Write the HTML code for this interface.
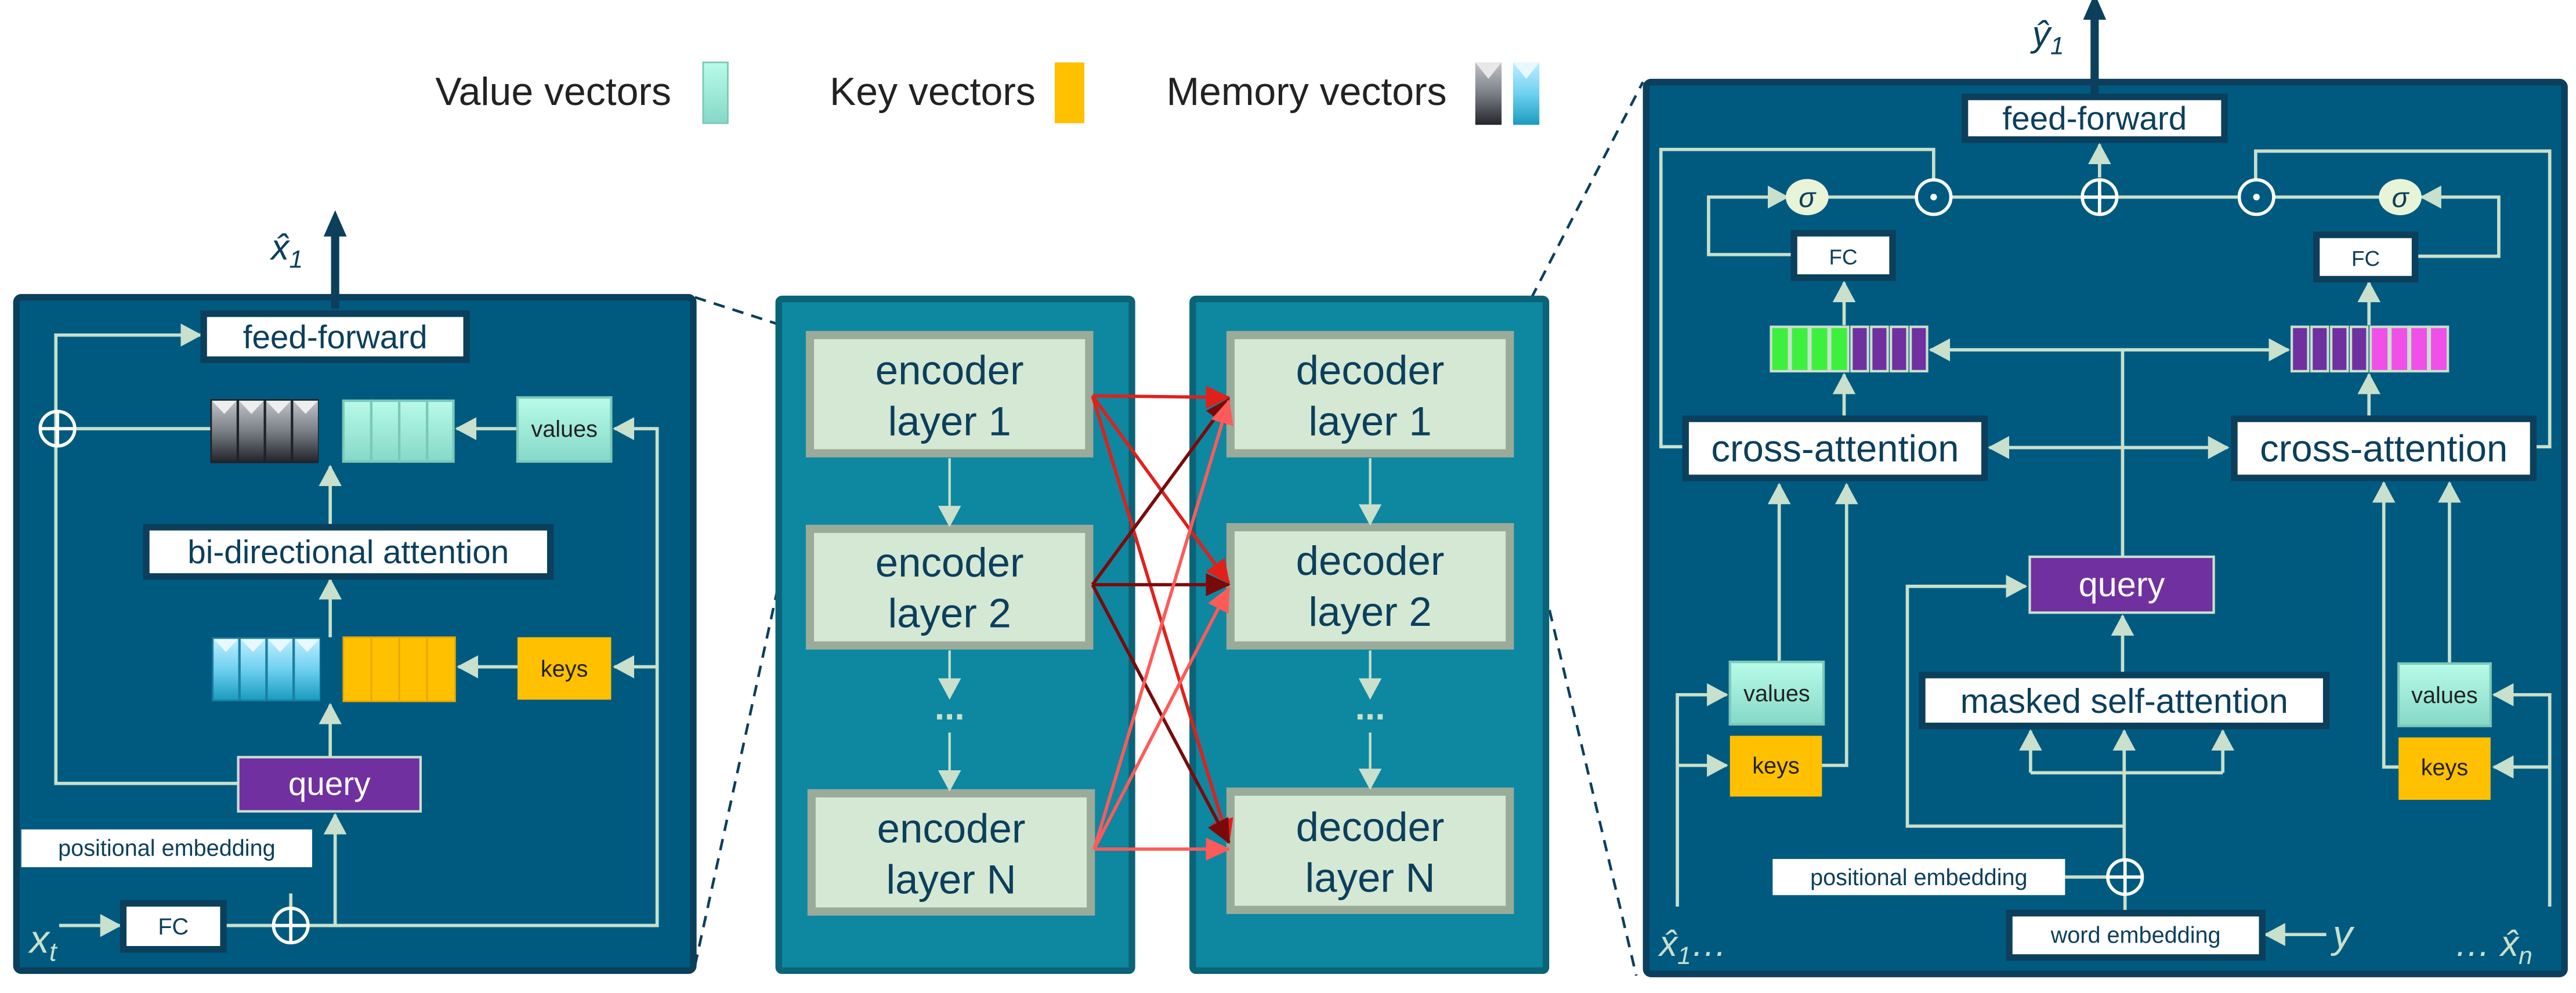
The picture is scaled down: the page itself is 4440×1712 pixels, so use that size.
<!DOCTYPE html>
<html><head><meta charset="utf-8"><style>
html,body{margin:0;padding:0;background:#fff;}
svg{display:block;}
text{font-family:"Liberation Sans",sans-serif;}
</style></head><body>
<svg width="4440" height="1712" viewBox="0 0 1568 604.6" xmlns="http://www.w3.org/2000/svg">
<defs>
<marker id="ah" markerUnits="userSpaceOnUse" markerWidth="14" markerHeight="14" refX="12" refY="7" orient="auto"><path d="M0,0 L13,7 L0,14 Z" fill="#c8e0cc"/></marker>
<marker id="r1" markerUnits="userSpaceOnUse" markerWidth="16" markerHeight="16" refX="14" refY="8" orient="auto"><path d="M0,1 L15,8 L0,15 Z" fill="#e0201a"/></marker>
<marker id="r2" markerUnits="userSpaceOnUse" markerWidth="16" markerHeight="16" refX="14" refY="8" orient="auto"><path d="M0,1 L15,8 L0,15 Z" fill="#7a0a0a"/></marker>
<marker id="r3" markerUnits="userSpaceOnUse" markerWidth="16" markerHeight="16" refX="14" refY="8" orient="auto"><path d="M0,1 L15,8 L0,15 Z" fill="#ff5a5a"/></marker>
<marker id="big" markerUnits="userSpaceOnUse" markerWidth="16" markerHeight="16" refX="8" refY="14" orient="0"><path d="M1,16 L8,0 L15,16 Z" fill="#0b3f5c"/></marker>
<linearGradient id="gray" x1="0" y1="0" x2="0" y2="1"><stop offset="0" stop-color="#c0c4c8"/><stop offset="0.5" stop-color="#7a7f86"/><stop offset="1" stop-color="#23262b"/></linearGradient>
<linearGradient id="blue" x1="0" y1="0" x2="0" y2="1"><stop offset="0" stop-color="#bfeeff"/><stop offset="0.5" stop-color="#6fd0f0"/><stop offset="1" stop-color="#1a9cc0"/></linearGradient>
<linearGradient id="teal" x1="0" y1="0" x2="0" y2="1"><stop offset="0" stop-color="#b8fbe8"/><stop offset="1" stop-color="#86d8c8"/></linearGradient>
</defs>

<!-- legend -->
<text x="265" y="64" font-size="24" fill="#222">Value vectors</text>
<rect x="428" y="38" width="15" height="37" fill="url(#teal)" stroke="#7cc8b8"/>
<text x="505" y="64" font-size="24" fill="#222">Key vectors</text>
<rect x="642" y="38" width="18" height="37" fill="#ffc000"/>
<text x="710" y="64" font-size="24" fill="#222">Memory vectors</text>
<rect x="898" y="38" width="16" height="38" fill="url(#gray)"/><path d="M898,38 L906,48 L914,38 Z" fill="#e8e8e8"/>
<rect x="921" y="38" width="16" height="38" fill="url(#blue)"/><path d="M921,38 L929,48 L937,38 Z" fill="#e8f8ff"/>

<!-- dashed zoom lines -->
<g stroke="#0b3f5c" stroke-width="1.6" stroke-dasharray="7,5" fill="none">
<line x1="423" y1="181" x2="491" y2="203"/>
<line x1="423" y1="588" x2="491" y2="278"/>
<line x1="921" y1="203" x2="1000" y2="50"/>
<line x1="921" y1="278" x2="996" y2="594"/>
</g>

<!-- LEFT PANEL -->
<rect x="10" y="181" width="412" height="410" rx="3" fill="#005a80" stroke="#0b3f5c" stroke-width="4"/>
<g stroke="#c8e0cc" stroke-width="2" fill="none">
<polyline points="145,477 34,477 34,204 122,204" marker-end="url(#ah)"/>
<line x1="46" y1="261" x2="128" y2="261"/>
<line x1="201" y1="321" x2="201" y2="284" marker-end="url(#ah)"/>
<line x1="201" y1="388" x2="201" y2="353" marker-end="url(#ah)"/>
<line x1="201" y1="461" x2="201" y2="429" marker-end="url(#ah)"/>
<line x1="315" y1="261" x2="278" y2="261" marker-end="url(#ah)"/>
<line x1="315" y1="406" x2="279" y2="406" marker-end="url(#ah)"/>
<polyline points="188,563.5 400,563.5 400,261 374,261" marker-end="url(#ah)"/>
<line x1="400" y1="406" x2="374" y2="406" marker-end="url(#ah)"/>
<line x1="136" y1="563.5" x2="166" y2="563.5"/>
<line x1="204" y1="563.5" x2="204" y2="496" marker-end="url(#ah)"/>
<line x1="36" y1="563.5" x2="73" y2="563.5" marker-end="url(#ah)"/>
<line x1="177" y1="544" x2="177" y2="552"/>
</g>
<g stroke="#fff" stroke-width="2" fill="none">
<circle cx="35" cy="261" r="10.5"/><line x1="24.5" y1="261" x2="45.5" y2="261"/><line x1="35" y1="250.5" x2="35" y2="271.5"/>
<circle cx="177" cy="563.5" r="10.5"/><line x1="166.5" y1="563.5" x2="187.5" y2="563.5"/><line x1="177" y1="553" x2="177" y2="574"/>
</g>
<line x1="204" y1="188" x2="204" y2="142" stroke="#0b3f5c" stroke-width="5" marker-end="url(#big)"/>
<text x="165" y="158" font-size="22" font-style="italic" font-family="Liberation Serif" fill="#0b3f5c">x̂<tspan font-size="15" dy="5">1</tspan></text>
<rect x="124" y="191" width="160" height="28" fill="#fff" stroke="#0b3f5c" stroke-width="4"/>
<text x="204" y="212" font-size="20" text-anchor="middle" fill="#0b3f5c">feed-forward</text>
<g><rect x="128" y="243" width="66" height="39" fill="#1e2328"/>
<rect x="129" y="244" width="15" height="37" fill="url(#gray)"/><rect x="145.5" y="244" width="15" height="37" fill="url(#gray)"/><rect x="162" y="244" width="15" height="37" fill="url(#gray)"/><rect x="178.5" y="244" width="15" height="37" fill="url(#gray)"/>
<path d="M129,244 L136.5,252 L144,244Z M145.5,244 L153,252 L160.5,244Z M162,244 L169.5,252 L177,244Z M178.5,244 L186,252 L193.5,244Z" fill="#eee"/></g>
<g fill="url(#teal)" stroke="#7cc8b8" stroke-width="1.5"><rect x="209" y="244" width="17" height="37"/><rect x="226" y="244" width="17" height="37"/><rect x="243" y="244" width="17" height="37"/><rect x="260" y="244" width="16" height="37"/></g>
<rect x="315" y="242" width="57" height="39" fill="url(#teal)" stroke="#7cc8b8" stroke-width="1.5"/>
<text x="343.5" y="266" font-size="14" text-anchor="middle" fill="#222">values</text>
<rect x="89" y="321" width="246" height="30" fill="#fff" stroke="#0b3f5c" stroke-width="4"/>
<text x="212" y="343" font-size="20" text-anchor="middle" fill="#0b3f5c">bi-directional attention</text>
<g><rect x="129" y="388" width="66" height="39" fill="#1a7ea0"/>
<rect x="130" y="389" width="15" height="37" fill="url(#blue)"/><rect x="146.5" y="389" width="15" height="37" fill="url(#blue)"/><rect x="163" y="389" width="15" height="37" fill="url(#blue)"/><rect x="179.5" y="389" width="15" height="37" fill="url(#blue)"/>
<path d="M130,389 L137.5,397 L145,389Z M146.5,389 L154,397 L161.5,389Z M163,389 L170.5,397 L178,389Z M179.5,389 L187,397 L194.5,389Z" fill="#e8f8ff"/></g>
<g fill="#ffc000" stroke="#e6a800" stroke-width="1"><rect x="209" y="388" width="17" height="39"/><rect x="226" y="388" width="17" height="39"/><rect x="243" y="388" width="17" height="39"/><rect x="260" y="388" width="17" height="39"/></g>
<rect x="315" y="388" width="57" height="38" fill="#ffc000"/>
<text x="343.5" y="412" font-size="14" text-anchor="middle" fill="#222">keys</text>
<rect x="145" y="461" width="111" height="33" fill="#7030a0" stroke="#c8e0cc" stroke-width="1.5"/>
<text x="200.5" y="484" font-size="20" text-anchor="middle" fill="#fff">query</text>
<rect x="13" y="505" width="177" height="23" fill="#fff"/>
<text x="101.5" y="521" font-size="14" text-anchor="middle" fill="#0b3f5c">positional embedding</text>
<rect x="75" y="550" width="61" height="28" fill="#fff" stroke="#0b3f5c" stroke-width="4"/>
<text x="105.5" y="569" font-size="14" text-anchor="middle" fill="#0b3f5c">FC</text>
<text x="18" y="580" font-size="24" font-style="italic" font-family="Liberation Serif" fill="#c8e0cc">x<tspan font-size="16" dy="5">t</tspan></text>

<!-- MIDDLE PANELS -->
<rect x="474" y="182" width="215" height="409" rx="2" fill="#0e87a0" stroke="#0b6378" stroke-width="4"/>
<rect x="726" y="182" width="215" height="409" rx="2" fill="#0e87a0" stroke="#0b6378" stroke-width="4"/>
<g fill="#d4e8d4" stroke="#9aab9a" stroke-width="5">
<rect x="493" y="204" width="170" height="72"/><rect x="493" y="322" width="170" height="71"/><rect x="494" y="483" width="170" height="72"/>
<rect x="749" y="204" width="170" height="72"/><rect x="749" y="321" width="170" height="72"/><rect x="749" y="482" width="170" height="72"/>
</g>
<g font-size="25" text-anchor="middle" fill="#0b3f5c">
<text x="578" y="234">encoder</text><text x="578" y="265">layer 1</text>
<text x="578" y="351">encoder</text><text x="578" y="382">layer 2</text>
<text x="579" y="513">encoder</text><text x="579" y="544">layer N</text>
<text x="834" y="234">decoder</text><text x="834" y="265">layer 1</text>
<text x="834" y="350">decoder</text><text x="834" y="381">layer 2</text>
<text x="834" y="512">decoder</text><text x="834" y="543">layer N</text>
</g>
<g stroke="#c8e0cc" stroke-width="1.5">
<line x1="578" y1="279" x2="578" y2="320" marker-end="url(#ah)"/>
<line x1="578" y1="396" x2="578" y2="425" marker-end="url(#ah)"/>
<line x1="578" y1="446" x2="578" y2="481" marker-end="url(#ah)"/>
<line x1="834" y1="279" x2="834" y2="319" marker-end="url(#ah)"/>
<line x1="834" y1="396" x2="834" y2="425" marker-end="url(#ah)"/>
<line x1="834" y1="446" x2="834" y2="480" marker-end="url(#ah)"/>
</g>
<text x="578" y="438" font-size="22" font-weight="bold" text-anchor="middle" fill="#c8e0cc">...</text>
<text x="834" y="438" font-size="22" font-weight="bold" text-anchor="middle" fill="#c8e0cc">...</text>
<g stroke-width="2" fill="none">
<line x1="665" y1="241" x2="748" y2="242" stroke="#e0201a" marker-end="url(#r1)"/>
<line x1="665" y1="241" x2="748" y2="355" stroke="#e0201a" marker-end="url(#r1)"/>
<line x1="665" y1="241" x2="748" y2="513" stroke="#e0201a" marker-end="url(#r1)"/>
<line x1="665" y1="356" x2="748" y2="243" stroke="#7a0a0a" marker-end="url(#r2)"/>
<line x1="665" y1="356" x2="748" y2="356" stroke="#7a0a0a" marker-end="url(#r2)"/>
<line x1="665" y1="356" x2="748" y2="513" stroke="#7a0a0a" marker-end="url(#r2)"/>
<line x1="666" y1="517" x2="748" y2="244" stroke="#ff5a5a" marker-end="url(#r3)"/>
<line x1="666" y1="517" x2="748" y2="358" stroke="#ff5a5a" marker-end="url(#r3)"/>
<line x1="666" y1="517" x2="748" y2="517" stroke="#ff5a5a" marker-end="url(#r3)"/>
</g>

<!-- RIGHT PANEL -->
<rect x="1002" y="50" width="559" height="543" rx="3" fill="#005a80" stroke="#0b3f5c" stroke-width="4"/>
<line x1="1275" y1="58" x2="1275" y2="10" stroke="#0b3f5c" stroke-width="5" marker-end="url(#big)"/>
<text x="1237" y="28" font-size="22" font-style="italic" font-family="Liberation Serif" fill="#0b3f5c">ŷ<tspan font-size="15" dy="5">1</tspan></text>
<g stroke="#c8e0cc" stroke-width="2" fill="none">
<line x1="1111" y1="120" x2="1166" y2="120"/><line x1="1188" y1="120" x2="1362" y2="120"/><line x1="1384" y1="120" x2="1450" y2="120"/>
<line x1="1278" y1="108" x2="1278" y2="88" marker-end="url(#ah)"/>
<polyline points="1024,272 1011,272 1011,91 1177,91 1177,109"/>
<polyline points="1543,272 1552,272 1552,92 1373,92 1373,109"/>
<polyline points="1092,155 1040,155 1040,120 1088,120" marker-end="url(#ah)"/>
<polyline points="1471,156 1521,156 1521,120 1474,120" marker-end="url(#ah)"/>
<line x1="1122.5" y1="198" x2="1122.5" y2="172" marker-end="url(#ah)"/>
<line x1="1442" y1="198" x2="1442" y2="172" marker-end="url(#ah)"/>
<line x1="1122.5" y1="253" x2="1122.5" y2="228" marker-end="url(#ah)"/>
<line x1="1442" y1="253" x2="1442" y2="228" marker-end="url(#ah)"/>
<line x1="1292" y1="213" x2="1175" y2="213" marker-end="url(#ah)"/>
<line x1="1292" y1="213" x2="1393" y2="213" marker-end="url(#ah)"/>
<line x1="1292" y1="213" x2="1292" y2="339"/>
<line x1="1292" y1="272.5" x2="1211" y2="272.5" marker-end="url(#ah)"/>
<line x1="1292" y1="272.5" x2="1356" y2="272.5" marker-end="url(#ah)"/>
<line x1="1292" y1="410" x2="1292" y2="375" marker-end="url(#ah)"/>
<polyline points="1236,470.5 1353,470.5"/>
<line x1="1236" y1="470.5" x2="1236" y2="445" marker-end="url(#ah)"/>
<line x1="1293" y1="523" x2="1293" y2="445" marker-end="url(#ah)"/>
<line x1="1353" y1="470.5" x2="1353" y2="445" marker-end="url(#ah)"/>
<polyline points="1293,503 1161,503 1161,357 1233,357" marker-end="url(#ah)"/>
<line x1="1257" y1="534" x2="1283" y2="534"/>
<line x1="1293.5" y1="545" x2="1293.5" y2="556"/>
<line x1="1416" y1="569" x2="1379" y2="569" marker-end="url(#ah)"/>
<line x1="1083" y1="403" x2="1083" y2="295" marker-end="url(#ah)"/>
<polyline points="1109,466 1124,466 1124,295" marker-end="url(#ah)"/>
<polyline points="1021,552 1021,423 1051,423" marker-end="url(#ah)"/>
<line x1="1021" y1="466" x2="1051" y2="466" marker-end="url(#ah)"/>
<line x1="1491" y1="404" x2="1491" y2="294" marker-end="url(#ah)"/>
<polyline points="1460,467 1451,467 1451,294" marker-end="url(#ah)"/>
<polyline points="1552,552 1552,423 1518,423" marker-end="url(#ah)"/>
<line x1="1552" y1="467" x2="1518" y2="467" marker-end="url(#ah)"/>
</g>
<g stroke="#fff" stroke-width="2" fill="none">
<circle cx="1177" cy="120" r="10.5"/><circle cx="1373.5" cy="120" r="10.5"/>
<circle cx="1278" cy="120" r="10.5"/><line x1="1267.5" y1="120" x2="1288.5" y2="120"/><line x1="1278" y1="109.5" x2="1278" y2="130.5"/>
<circle cx="1293.5" cy="534" r="10.5"/><line x1="1283" y1="534" x2="1304" y2="534"/><line x1="1293.5" y1="523.5" x2="1293.5" y2="544.5"/>
</g>
<circle cx="1177" cy="120" r="2" fill="#fff"/><circle cx="1373.5" cy="120" r="2" fill="#fff"/>
<ellipse cx="1100" cy="120" rx="13" ry="11" fill="#e8f4d8"/><ellipse cx="1461" cy="120" rx="13" ry="11" fill="#e8f4d8"/>
<text x="1100" y="126" font-size="17" font-style="italic" font-family="Liberation Serif" text-anchor="middle" fill="#0b3f5c">σ</text>
<text x="1461" y="126" font-size="17" font-style="italic" font-family="Liberation Serif" text-anchor="middle" fill="#0b3f5c">σ</text>
<rect x="1196" y="59" width="158" height="26" fill="#fff" stroke="#0b3f5c" stroke-width="4"/>
<text x="1275" y="79" font-size="20" text-anchor="middle" fill="#0b3f5c">feed-forward</text>
<rect x="1092" y="142" width="60" height="27" fill="#fff" stroke="#0b3f5c" stroke-width="4"/>
<text x="1122" y="161" font-size="13" text-anchor="middle" fill="#0b3f5c">FC</text>
<rect x="1410" y="143" width="60" height="27" fill="#fff" stroke="#0b3f5c" stroke-width="4"/>
<text x="1440" y="162" font-size="13" text-anchor="middle" fill="#0b3f5c">FC</text>
<g stroke="#c8e0cc" stroke-width="1.5">
<rect x="1078" y="199" width="11" height="27" fill="#3ef03e"/><rect x="1090" y="199" width="11" height="27" fill="#3ef03e"/><rect x="1102" y="199" width="11" height="27" fill="#3ef03e"/><rect x="1114" y="199" width="11" height="27" fill="#3ef03e"/>
<rect x="1127" y="199" width="10" height="27" fill="#7030a0"/><rect x="1139" y="199" width="10" height="27" fill="#7030a0"/><rect x="1151" y="199" width="10" height="27" fill="#7030a0"/><rect x="1163" y="199" width="10" height="27" fill="#7030a0"/>
<rect x="1395" y="199" width="10" height="27" fill="#7030a0"/><rect x="1407" y="199" width="10" height="27" fill="#7030a0"/><rect x="1419" y="199" width="10" height="27" fill="#7030a0"/><rect x="1431" y="199" width="10" height="27" fill="#7030a0"/>
<rect x="1443" y="199" width="11" height="27" fill="#f050e8"/><rect x="1455" y="199" width="11" height="27" fill="#f050e8"/><rect x="1467" y="199" width="11" height="27" fill="#f050e8"/><rect x="1479" y="199" width="11" height="27" fill="#f050e8"/>
</g>
<rect x="1026" y="255" width="182" height="36" fill="#fff" stroke="#0b3f5c" stroke-width="4"/>
<text x="1117" y="281" font-size="23" text-anchor="middle" fill="#0b3f5c">cross-attention</text>
<rect x="1360" y="255" width="182" height="36" fill="#fff" stroke="#0b3f5c" stroke-width="4"/>
<text x="1451" y="281" font-size="23" text-anchor="middle" fill="#0b3f5c">cross-attention</text>
<rect x="1235.5" y="339" width="112" height="34" fill="#7030a0" stroke="#c8e0cc" stroke-width="1.5"/>
<text x="1291.5" y="363" font-size="21" text-anchor="middle" fill="#fff">query</text>
<rect x="1170" y="411" width="246" height="31" fill="#fff" stroke="#0b3f5c" stroke-width="4"/>
<text x="1293" y="434" font-size="21" text-anchor="middle" fill="#0b3f5c">masked self-attention</text>
<rect x="1053" y="403" width="57" height="38" fill="url(#teal)" stroke="#7cc8b8" stroke-width="1.5"/>
<text x="1081.5" y="427" font-size="14" text-anchor="middle" fill="#222">values</text>
<rect x="1053" y="448" width="56" height="37" fill="#ffc000"/>
<text x="1081" y="471" font-size="14" text-anchor="middle" fill="#222">keys</text>
<rect x="1460" y="404" width="56" height="38" fill="url(#teal)" stroke="#7cc8b8" stroke-width="1.5"/>
<text x="1488" y="428" font-size="14" text-anchor="middle" fill="#222">values</text>
<rect x="1460" y="449" width="56" height="38" fill="#ffc000"/>
<text x="1488" y="472" font-size="14" text-anchor="middle" fill="#222">keys</text>
<rect x="1079" y="523" width="178" height="22" fill="#fff"/>
<text x="1168" y="539" font-size="14" text-anchor="middle" fill="#0b3f5c">positional embedding</text>
<rect x="1223" y="556" width="154" height="27" fill="#fff" stroke="#0b3f5c" stroke-width="4"/>
<text x="1300" y="574" font-size="14" text-anchor="middle" fill="#0b3f5c">word embedding</text>
<text x="1420" y="577" font-size="24" font-style="italic" font-family="Liberation Serif" fill="#c8e0cc">y</text>
<text x="1010" y="582" font-size="22" font-style="italic" font-family="Liberation Serif" fill="#c8e0cc">x̂<tspan font-size="15" dy="5">1</tspan><tspan dy="-5">…</tspan></text>
<text x="1494" y="582" font-size="22" font-style="italic" font-family="Liberation Serif" fill="#c8e0cc">… x̂<tspan font-size="15" dy="5">n</tspan></text>
</svg>
</body></html>
